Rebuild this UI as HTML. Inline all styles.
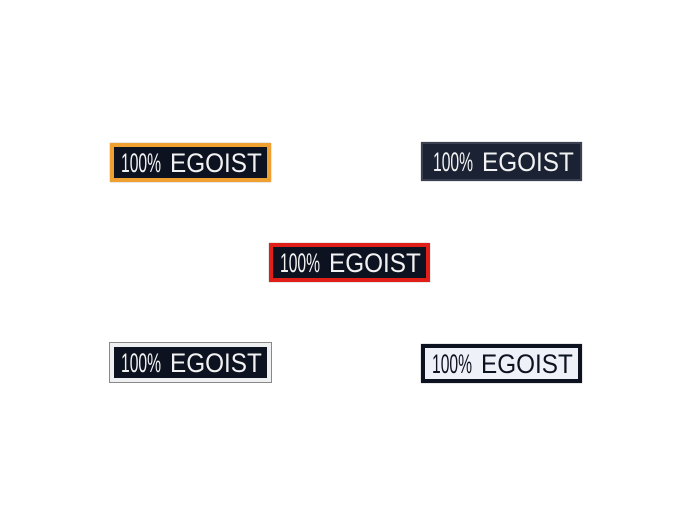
<!DOCTYPE html>
<html><head><style>
body{margin:0;width:700px;height:525px;background:#fff;position:relative;overflow:hidden;font-family:"Liberation Sans",sans-serif}
.p{position:absolute;box-sizing:border-box;height:39px;width:161px;background:#0d1220;border:4px solid #f0a030;box-shadow:0 0 1px #888}
.t{position:absolute;top:2px;left:7px;font-size:27px;line-height:29px;color:#f2f2f2;white-space:nowrap}
.n{display:inline-block;transform:scaleX(.58);transform-origin:left;width:40px}
.e{display:inline-block;margin-left:9px;transform:scaleX(.9);transform-origin:left}
</style></head><body>
<div class="p" style="left:110px;top:143px"><div class="t"><span class="n">100%</span><span class="e">EGOIST</span></div></div>
<div class="p" style="left:421px;top:142px;border:2px solid #3a4050;background:#1b2234"><div class="t" style="left:10px;top:4px"><span class="n">100%</span><span class="e">EGOIST</span></div></div>
<div class="p" style="left:269px;top:243px;border-color:#e02018"><div class="t"><span class="n">100%</span><span class="e">EGOIST</span></div></div>
<div class="p" style="left:110px;top:343px;border-color:#eef0f2;box-shadow:0 0 0 1px #888"><div class="t"><span class="n">100%</span><span class="e">EGOIST</span></div></div>
<div class="p" style="left:421px;top:344px;border-color:#0d1220;background:#eef2f8"><div class="t" style="color:#0d1220"><span class="n">100%</span><span class="e">EGOIST</span></div></div>
</body></html>
